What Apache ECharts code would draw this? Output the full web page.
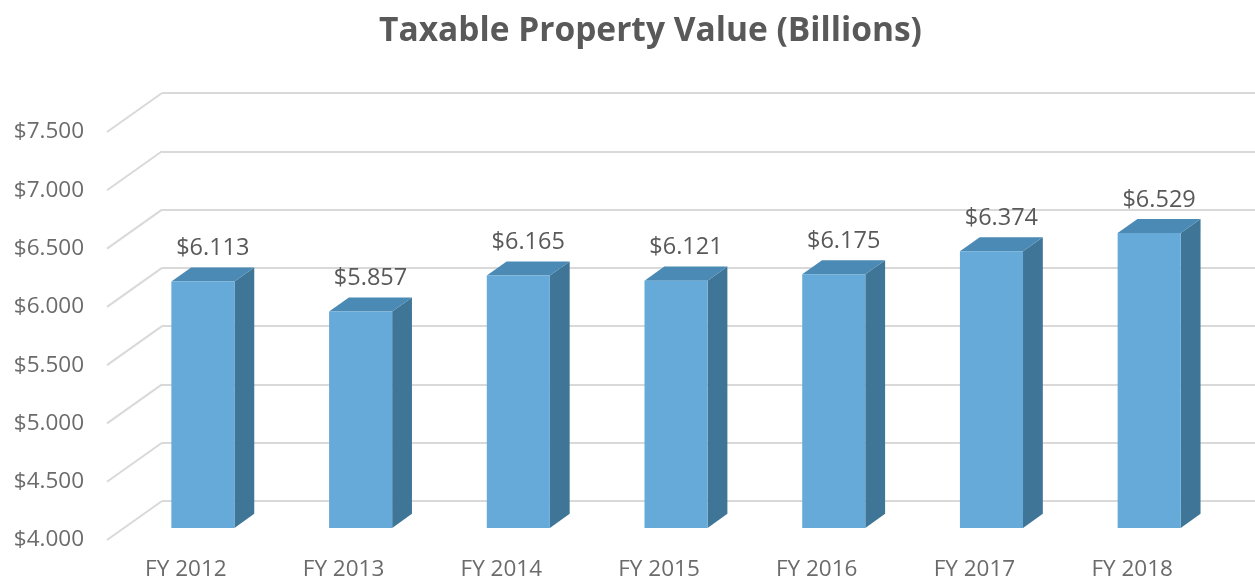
<!DOCTYPE html>
<html>
<head>
<meta charset="utf-8">
<script src="https://cdn.jsdelivr.net/npm/echarts@6/dist/echarts.min.js"></script>
<style>
html,body{margin:0;padding:0;background:#fff;}
#chart{width:1255px;height:581px;}
</style>
</head>
<body>
<div id="chart"></div>
<script>
const title = 'Taxable Property Value (Billions)';
const categories = ['FY 2012', 'FY 2013', 'FY 2014', 'FY 2015', 'FY 2016', 'FY 2017', 'FY 2018'];
const values = [6.113, 5.857, 6.165, 6.121, 6.175, 6.374, 6.529];
const yTicks = [4.0, 4.5, 5.0, 5.5, 6.0, 6.5, 7.0, 7.5];
const Y_MIN = 4.0, Y_MAX = 7.5, Y_STEP = 0.5;

// projection of the depth axis (front plane -> back wall), in pixels
const WALL_DX = 55, WALL_DY = -39;
const BAR_FRONT = 0.31, BAR_DEPTH = 0.36, BAR_WIDTH = 0.40;

const fmt = v => '$' + v.toFixed(3);
const chart = echarts.init(document.getElementById('chart'), null, {renderer: 'canvas'});

const FONT = '"Open Sans", Lato, sans-serif';
const TEXT = '#6b6b6b';
const GRID = '#d9d9d9';

chart.setOption({
  animation: false,
  backgroundColor: '#ffffff',
  title: {
    text: title,
    left: 374,
    top: 9,
    textStyle: {fontFamily: FONT, fontWeight: 'bold', fontSize: 33.5, color: '#595959'}
  },
  grid: [
    {left: 107, right: 44, top: 132, bottom: 41},          // front plane
    {left: 162, right: -11, top: 93, bottom: 80}           // back wall
  ],
  xAxis: [
    {type: 'category', gridIndex: 0, data: categories,
     axisLine: {show: false}, axisTick: {show: false}, splitLine: {show: false},
     axisLabel: {fontFamily: FONT, fontSize: 22.5, color: TEXT, margin: 18}},
    {type: 'category', gridIndex: 1, data: categories, show: false}
  ],
  yAxis: [
    {type: 'value', gridIndex: 0, min: Y_MIN, max: Y_MAX, interval: Y_STEP,
     axisLine: {show: false}, axisTick: {show: false}, splitLine: {show: false},
     axisLabel: {fontFamily: FONT, fontSize: 22.5, color: TEXT, margin: 23, formatter: v => fmt(v)}},
    {type: 'value', gridIndex: 1, min: Y_MIN, max: Y_MAX, interval: Y_STEP,
     axisLine: {show: false}, axisTick: {show: false}, axisLabel: {show: false},
     splitLine: {show: true, lineStyle: {color: GRID, width: 2}}}
  ],
  series: [
    {
      // side wall gridlines
      type: 'custom', xAxisIndex: 0, yAxisIndex: 0, silent: true, z: 1,
      data: yTicks.map(v => [0, v]),
      renderItem: function (params, api) {
        const y = api.coord([0, api.value(1)])[1];
        const x = params.coordSys.x;
        return {type: 'line', shape: {x1: x, y1: y, x2: x + WALL_DX, y2: y + WALL_DY},
                style: {stroke: GRID, lineWidth: 2}};
      }
    },
    {
      type: 'custom', xAxisIndex: 0, yAxisIndex: 0, z: 5,
      data: values.map((v, i) => [i, v]),
      renderItem: function (params, api) {
        const i = api.value(0), v = api.value(1);
        const base = api.coord([i, Y_MIN]);
        const top = api.coord([i, v]);
        const band = api.size([1, 0])[0];
        const w = band * BAR_WIDTH;
        const x0 = base[0] - w / 2 + WALL_DX * BAR_FRONT;
        const yb = base[1] + WALL_DY * BAR_FRONT;
        const yt = top[1] + WALL_DY * BAR_FRONT;
        const ddx = WALL_DX * BAR_DEPTH, ddy = WALL_DY * BAR_DEPTH;
        return {
          type: 'group',
          children: [
            {type: 'polygon', shape: {points: [[x0 + w, yt], [x0 + w + ddx, yt + ddy], [x0 + w + ddx, yb + ddy], [x0 + w, yb]]},
             style: {fill: '#3f7597'}},
            {type: 'polygon', shape: {points: [[x0, yt], [x0 + ddx, yt + ddy], [x0 + w + ddx, yt + ddy], [x0 + w, yt]]},
             style: {fill: '#4a8ab5'}},
            {type: 'rect', shape: {x: x0, y: yt, width: w, height: yb - yt},
             style: {fill: '#65aad8'}},
            {type: 'text', x: x0 + w / 2 + ddx / 2, y: yt + ddy - 19,
             style: {text: fmt(v), fontFamily: FONT, fontSize: 23.5, fill: '#595959', align: 'center', verticalAlign: 'middle'}}
          ]
        };
      }
    }
  ]
});
</script>
</body>
</html>
